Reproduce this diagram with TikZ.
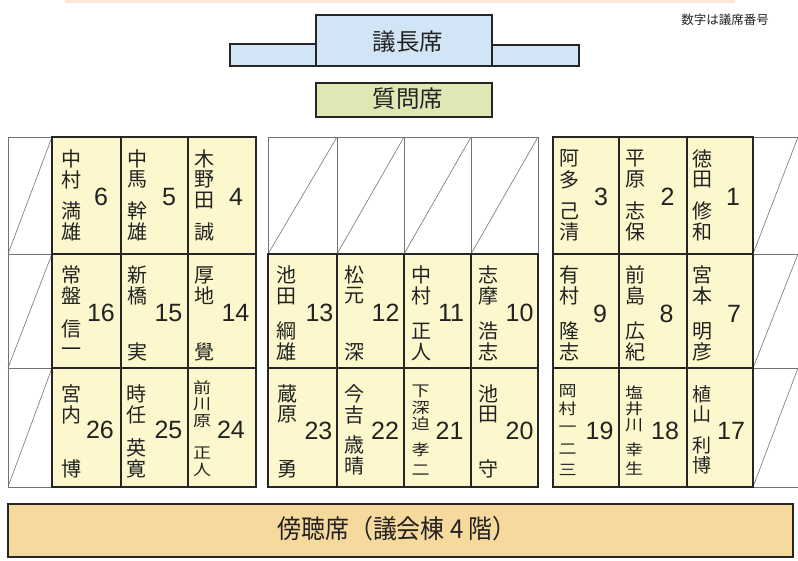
\documentclass[tikz,border=0pt]{standalone}
\usepackage{graphicx}
\usepackage{fontspec}
\setmainfont{Liberation Sans}
\newfontfamily\jp{Noto Sans CJK JP}
\definecolor{seatfill}{HTML}{FCF7CC}
\definecolor{chairfill}{HTML}{D2E5F7}
\definecolor{askfill}{HTML}{DEE8B4}
\definecolor{galfill}{HTML}{F6D99C}
\definecolor{inkc}{HTML}{222222}
\definecolor{topband}{HTML}{FBE8D6}
% vertical text: #1 id, #2 x, #3 first centre y, #4 pitch, #5 size, #6 chars
\newcommand\VText[6]{%
  \foreach \ch [count=\i] in {#6} {%
    \node[inner sep=0pt, text=inkc, font=\jp\fontsize{#5}{#5}\selectfont]
      (#1-\i) at (#2, {#3+(\i-1)*#4}) {\ch};
  }}
% squeezed vertical text: glyphs flattened to fit five characters
\newcommand\VTextS[6]{%
  \foreach \ch [count=\i] in {#6} {%
    \node[inner sep=0pt, text=inkc, font=\jp\fontsize{#5}{#5}\selectfont]
      (#1-\i) at (#2, {#3+(\i-1)*#4}) {\scalebox{1}[0.84]{\ch}};
  }}
\newcommand\SeatNo[4]{% #1 id, #2 x, #3 y, #4 number
  \node[inner sep=0pt, text=inkc, font=\fontsize{25}{25}\selectfont] (#1) at (#2,#3) {#4};}
\begin{document}
\begin{tikzpicture}[x=1pt,y=-1pt,
  emptycell/.style={draw=black!55, line width=0.6pt, fill=white},
  seatcell/.style={draw=black!85, line width=1.3pt, fill=seatfill},
  diagline/.style={draw=black!55, line width=0.6pt},
  boxline/.style={draw=black!85, line width=1.3pt},
  lbl/.style={inner sep=0pt, text=inkc}]
\useasboundingbox (0,0) rectangle (798,560);
\clip (0,0) rectangle (798,560);
\fill[topband] (65,0) rectangle (735,3);

% chair and question desk
\draw[boxline, fill=chairfill] (230,44) rectangle (316,66);
\draw[boxline, fill=chairfill] (492,45) rectangle (579,66);
\draw[boxline, fill=chairfill] (316,15) rectangle (492,66);
\node[lbl, font=\jp\fontsize{23.5}{23.5}\selectfont] (chair) at (408,42) {議長席};
\draw[boxline, fill=askfill] (316,83) rectangle (492,117);
\node[lbl, font=\jp\fontsize{23.5}{23.5}\selectfont] (ask) at (408,99) {質問席};
\node[lbl, font=\jp\fontsize{12.5}{12.5}\selectfont] (note) at (725,20) {数字は議席番号};

% empty (struck) seats
\foreach \xa/\xb/\ya/\yb in {8/52/137/254, 8/52/254/368, 8/52/368/487,
  268/337/137/254, 337/404/137/254, 404/471/137/254, 471/538/137/254}{
  \draw[emptycell] (\xa,\ya) rectangle (\xb,\yb);
  \draw[diagline] (\xa,\yb) -- (\xb,\ya);
}
\foreach \ya/\yb in {137/254, 254/368, 368/487}{
  \draw[diagline] (800,\ya) -- (753,\ya) -- (753,\yb) -- (800,\yb);
  \draw[diagline] (753,\yb) -- (798,\ya);
}

% occupied seats
\foreach \xa/\xb in {52/121, 121/188, 188/256, 553/619, 619/687, 687/753}{
  \foreach \ya/\yb in {137/254, 254/368, 368/487}{
    \draw[seatcell] (\xa,\ya) rectangle (\xb,\yb);
  }}
\foreach \xa/\xb in {268/337, 337/404, 404/471, 471/538}{
  \foreach \ya/\yb in {254/368, 368/487}{
    \draw[seatcell] (\xa,\ya) rectangle (\xb,\yb);
  }}

% row 1
\VText{f6}{71}{158.5}{21}{20}{中,村}   \VText{g6}{71}{211}{21}{20}{満,雄}   \SeatNo{n6}{101}{197}{6}
\VText{f5}{137.5}{158.5}{21}{20}{中,馬} \VText{g5}{137.5}{211}{21}{20}{幹,雄} \SeatNo{n5}{169}{197}{5}
\VText{f4}{204}{158.5}{21}{20}{木,野,田} \VText{g4}{204}{232}{21}{20}{誠}   \SeatNo{n4}{236}{197}{4}
\VText{f3}{569.5}{158.5}{21}{20}{阿,多} \VText{g3}{569.5}{211}{21}{20}{己,清} \SeatNo{n3}{601}{197}{3}
\VText{f2}{635.5}{158.5}{21}{20}{平,原} \VText{g2}{635.5}{211}{21}{20}{志,保} \SeatNo{n2}{667.5}{197}{2}
\VText{f1}{702.5}{158.5}{21}{20}{徳,田} \VText{g1}{702.5}{211}{21}{20}{修,和} \SeatNo{n1}{733}{197}{1}

% row 2
\VText{f16}{71}{275}{21}{20}{常,盤}   \VText{g16}{71}{329}{23}{20}{信,一}  \SeatNo{n16}{101}{313}{16}
\VText{f15}{137}{275}{21}{20}{新,橋}  \VText{g15}{137}{352}{21}{20}{実}    \SeatNo{n15}{168.5}{313}{15}
\VText{f14}{204}{275}{21}{20}{厚,地}  \VText{g14}{204}{352}{21}{20}{覺}    \SeatNo{n14}{235.5}{313}{14}
\VText{f13}{286.5}{275}{21}{20}{池,田} \VText{g13}{286.5}{331}{21}{20}{綱,雄} \SeatNo{n13}{319.5}{313}{13}
\VText{f12}{354}{275}{21}{20}{松,元}  \VText{g12}{354}{352}{21}{20}{深}    \SeatNo{n12}{385.5}{313}{12}
\VText{f11}{421.5}{275}{21}{20}{中,村} \VText{g11}{421.5}{331}{21}{20}{正,人} \SeatNo{n11}{451}{313}{11}
\VText{f10}{488.5}{275}{21}{20}{志,摩} \VText{g10}{488.5}{331}{21}{20}{浩,志} \SeatNo{n10}{519.5}{313}{10}
\VText{f9}{569.5}{275}{21}{20}{有,村}  \VText{g9}{569.5}{331}{21}{20}{隆,志}  \SeatNo{n9}{600}{314}{9}
\VText{f8}{635.5}{275}{21}{20}{前,島}  \VText{g8}{635.5}{331}{21}{20}{広,紀}  \SeatNo{n8}{666.5}{314}{8}
\VText{f7}{702}{275}{21}{20}{宮,本}   \VText{g7}{702}{331}{21}{20}{明,彦}   \SeatNo{n7}{734}{314}{7}

% row 3
\VText{f26}{71}{393.5}{21}{20}{宮,内}   \VText{g26}{71}{469}{21}{20}{博}     \SeatNo{n26}{100}{430}{26}
\VText{f25}{136.5}{393.5}{21}{20}{時,任} \VText{g25}{136.5}{448}{21}{20}{英,寛} \SeatNo{n25}{168.5}{430}{25}
\VTextS{f24}{202}{388}{16.5}{18}{前,川,原} \VTextS{g24}{202}{452.5}{17.5}{18}{正,人} \SeatNo{n24}{231}{430}{24}
\VText{f23}{287}{393.5}{21}{20}{蔵,原}   \VText{g23}{287}{469}{21}{20}{勇}     \SeatNo{n23}{318.5}{431}{23}
\VText{f22}{354}{393.5}{21}{20}{今,吉}   \VText{g22}{354}{445}{21}{20}{歳,晴}  \SeatNo{n22}{385}{431}{22}
\VTextS{f21}{420.5}{391}{16.5}{18}{下,深,迫} \VTextS{g21}{420.5}{450}{20}{18}{孝,二} \SeatNo{n21}{449.5}{431}{21}
\VText{f20}{488}{393.5}{21}{20}{池,田}   \VText{g20}{488}{469}{21}{20}{守}     \SeatNo{n20}{519.5}{431}{20}
\VTextS{f19}{567.5}{391.5}{17.5}{18}{岡,村} \VTextS{g19}{567.5}{429}{20.5}{18}{一,二,三} \SeatNo{n19}{599.5}{431}{19}
\VTextS{f18}{634}{392.5}{16.5}{18}{塩,井,川} \VTextS{g18}{634}{450}{19}{18}{幸,生} \SeatNo{n18}{665}{431}{18}
\VText{f17}{701.5}{394}{20.5}{19}{植,山} \VText{g17}{701.5}{445}{20}{19}{利,博} \SeatNo{n17}{731}{431}{17}

% public gallery
\draw[boxline, fill=galfill] (8,504) rectangle (793,557);
\node[lbl, font=\jp\fontsize{26}{26}\selectfont, xscale=0.92] (gallery) at (397,529) {傍聴席（議会棟 4 階）};
\end{tikzpicture}
\end{document}
